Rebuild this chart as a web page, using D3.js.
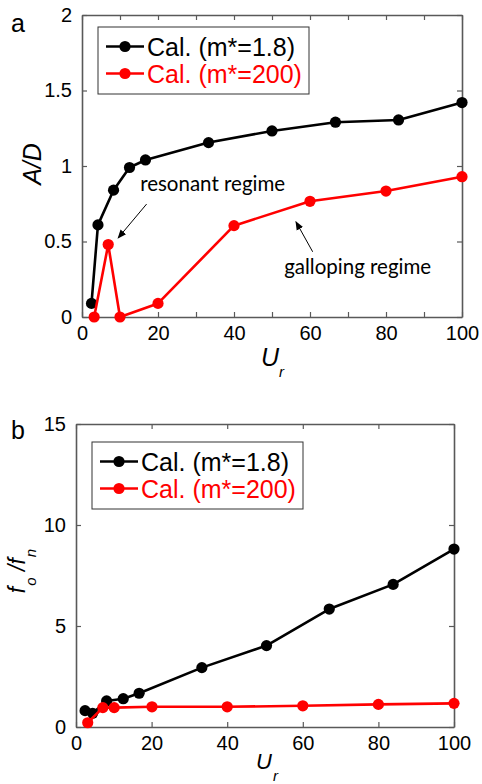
<!DOCTYPE html>
<html>
<head>
<meta charset="utf-8">
<script src="https://cdn.jsdelivr.net/npm/d3@7"></script>
<style>
  html, body { margin: 0; padding: 0; background: #fff; }
  svg { display: block; }
  text { font-family: "Liberation Sans", Arial, sans-serif; }
</style>
</head>
<body>
<svg id="chart" width="482" height="784"></svg>
<script>
// Panel a: oscillation amplitude A/D versus reduced velocity Ur
const urLight = [2.5, 4.2, 8.3, 12.5, 16.7, 33.3, 50, 66.7, 83.3, 100];
const ampLight = [0.09, 0.61, 0.84, 0.99, 1.04, 1.155, 1.232, 1.29, 1.305, 1.42];
const urHeavy = [3.2, 6.9, 10, 20, 40, 60, 80, 100];
const ampHeavy = [0.0, 0.48, 0.0, 0.09, 0.605, 0.766, 0.834, 0.929];

// Panel b: frequency ratio fo/fn versus Ur
const urLightF = [2.4, 4.4, 8.1, 12.5, 16.7, 33.3, 50.4, 67, 83.9, 100];
const freqLight = [0.81, 0.68, 1.29, 1.4, 1.67, 2.94, 4.03, 5.84, 7.06, 8.81];
const urHeavyF = [3.1, 7.1, 10.1, 20.1, 40, 60, 80, 100];
const freqHeavy = [0.21, 0.96, 0.96, 1.0, 1.0, 1.05, 1.12, 1.17];

const seriesNames = ["Cal. (m*=1.8)", "Cal. (m*=200)"];
const seriesColors = ["#000000", "#ff0000"];

const xTicksA = d3.range(0, 101, 10);
const xLabelsA = [0, 20, 40, 60, 80, 100];
const yTicksA = [0, 0.5, 1, 1.5, 2];
const xTicksB = [0, 20, 40, 60, 80, 100];
const yTicksB = [0, 5, 10, 15];

const svg = d3.select("#chart");
const axisColor = "#595959";
const numFmt = d3.format("~g");

function panel(cfg) {
  const x = d3.scaleLinear().domain([0, 100]).range([cfg.left, cfg.right]);
  const y = d3.scaleLinear().domain(cfg.yDomain).range([cfg.bottom, cfg.top]);
  const g = svg.append("g");

  // inward ticks on all four sides
  const bottomAxis = d3.axisBottom(x).tickValues(cfg.xTicks).tickSize(-5).tickSizeOuter(0)
    .tickPadding(9).tickFormat(d => cfg.xLabels.includes(d) ? numFmt(d) : "");
  const topAxis = d3.axisTop(x).tickValues(cfg.xTicks).tickSize(-5).tickSizeOuter(0).tickFormat("");
  const leftAxis = d3.axisLeft(y).tickValues(cfg.yTicks).tickSize(-5).tickSizeOuter(0)
    .tickPadding(10).tickFormat(numFmt);
  const rightAxis = d3.axisRight(y).tickValues(cfg.yTicks).tickSize(-5).tickSizeOuter(0).tickFormat("");

  const axes = [
    [bottomAxis, `translate(0,${cfg.bottom})`],
    [topAxis, `translate(0,${cfg.top})`],
    [leftAxis, `translate(${cfg.left},0)`],
    [rightAxis, `translate(${cfg.right},0)`]
  ];
  axes.forEach(([ax, tr]) => {
    const a = g.append("g").attr("transform", tr).call(ax);
    a.selectAll("path.domain").attr("stroke", axisColor).attr("stroke-width", 1.6);
    a.selectAll(".tick line").attr("stroke", axisColor).attr("stroke-width", 1.2);
    a.selectAll(".tick text").attr("fill", "#000")
      .style("font-family", '"Liberation Sans", Arial, sans-serif').style("font-size", "20px");
  });

  const line = d3.line().x(d => x(d[0])).y(d => y(d[1]));
  cfg.series.forEach((s, i) => {
    const pts = s.xs.map((v, k) => [v, s.ys[k]]);
    g.append("path").datum(pts).attr("d", line)
      .attr("fill", "none").attr("stroke", seriesColors[i]).attr("stroke-width", 2.6)
      .attr("stroke-linejoin", "round");
    g.selectAll(null).data(pts).enter().append("circle")
      .attr("cx", d => x(d[0])).attr("cy", d => y(d[1])).attr("r", 5.6)
      .attr("fill", seriesColors[i]);
  });

  // legend
  const lx = cfg.left + 16, ly = cfg.top + cfg.legendDy;
  const lg = g.append("g").attr("transform", `translate(${lx},${ly})`);
  lg.append("rect").attr("width", 211).attr("height", 67)
    .attr("fill", "#fff").attr("stroke", "#333").attr("stroke-width", 1);
  seriesNames.forEach((name, i) => {
    const ry = 19.5 + i * 27;
    lg.append("line").attr("x1", 8).attr("x2", 46).attr("y1", ry).attr("y2", ry)
      .attr("stroke", seriesColors[i]).attr("stroke-width", 2.6);
    lg.append("circle").attr("cx", 27).attr("cy", ry).attr("r", 5.6).attr("fill", seriesColors[i]);
    lg.append("text").attr("x", 49).attr("y", ry).attr("dy", "0.36em")
      .attr("fill", seriesColors[i]).style("font-size", "25px").text(name);
  });

  return { x, y, g };
}

// ---- panel a ----
const pa = panel({
  left: 82, right: 462, top: 15, bottom: 317, yDomain: [0, 2],
  xTicks: xTicksA, xLabels: xLabelsA, yTicks: yTicksA, legendDy: 12,
  series: [{ xs: urLight, ys: ampLight }, { xs: urHeavy, ys: ampHeavy }]
});

// ---- panel b ----
const pb = panel({
  left: 76, right: 454, top: 424, bottom: 727, yDomain: [0, 15],
  xTicks: xTicksB, xLabels: xTicksB, yTicks: yTicksB, legendDy: 18,
  series: [{ xs: urLightF, ys: freqLight }, { xs: urHeavyF, ys: freqHeavy }]
});

// panel letters
svg.append("text").attr("x", 11).attr("y", 32).style("font-size", "25px").text("a");
svg.append("text").attr("x", 11).attr("y", 439).style("font-size", "25px").text("b");

// axis titles, panel a
const uA = svg.append("text").attr("x", 261).attr("y", 366)
  .style("font-size", "25px").style("font-style", "italic");
uA.append("tspan").text("U");
uA.append("tspan").attr("dy", 11).style("font-size", "15px").text("r");

svg.append("text").attr("transform", "translate(41,164) rotate(-90)")
  .attr("text-anchor", "middle").style("font-size", "25px").style("font-style", "italic")
  .text("A/D");

// axis titles, panel b
const uB = svg.append("text").attr("x", 256).attr("y", 769)
  .style("font-size", "22px").style("font-style", "italic");
uB.append("tspan").text("U");
uB.append("tspan").attr("dx", 1).attr("dy", 12).style("font-size", "15px").text("r");

const fL = svg.append("text").attr("transform", "translate(25,571) rotate(-90)")
  .attr("text-anchor", "middle").style("font-size", "23px").style("font-style", "italic");
fL.append("tspan").text("f");
fL.append("tspan").attr("dx", 1).attr("dy", 11).style("font-size", "15px").text("o");
fL.append("tspan").attr("dy", -11).text(" /f");
fL.append("tspan").attr("dx", 1).attr("dy", 11).style("font-size", "15px").text("n");

// annotations in panel a
const defs = svg.append("defs");
defs.append("marker").attr("id", "arrow").attr("viewBox", "0 0 10 10")
  .attr("refX", 9).attr("refY", 5).attr("markerWidth", 9).attr("markerHeight", 9)
  .attr("markerUnits", "userSpaceOnUse").attr("orient", "auto")
  .append("path").attr("d", "M0,1 L10,5 L0,9 Z").attr("fill", "#000");

const notes = [
  { text: "resonant regime", tx: 15.3, ty: 0.834, from: [17.0, 0.748], to: [9.5, 0.523] },
  { text: "galloping regime", tx: 53.2, ty: 0.285, from: [60.7, 0.432], to: [56.3, 0.631] }
];
notes.forEach(n => {
  svg.append("text").attr("x", pa.x(n.tx)).attr("y", pa.y(n.ty))
    .style("font-family", 'Lato, "Open Sans", sans-serif').style("font-size", "20.5px")
    .attr("fill", "#000").text(n.text);
  svg.append("line")
    .attr("x1", pa.x(n.from[0])).attr("y1", pa.y(n.from[1]))
    .attr("x2", pa.x(n.to[0])).attr("y2", pa.y(n.to[1]))
    .attr("stroke", "#000").attr("stroke-width", 1).attr("marker-end", "url(#arrow)");
});
</script>
</body>
</html>
